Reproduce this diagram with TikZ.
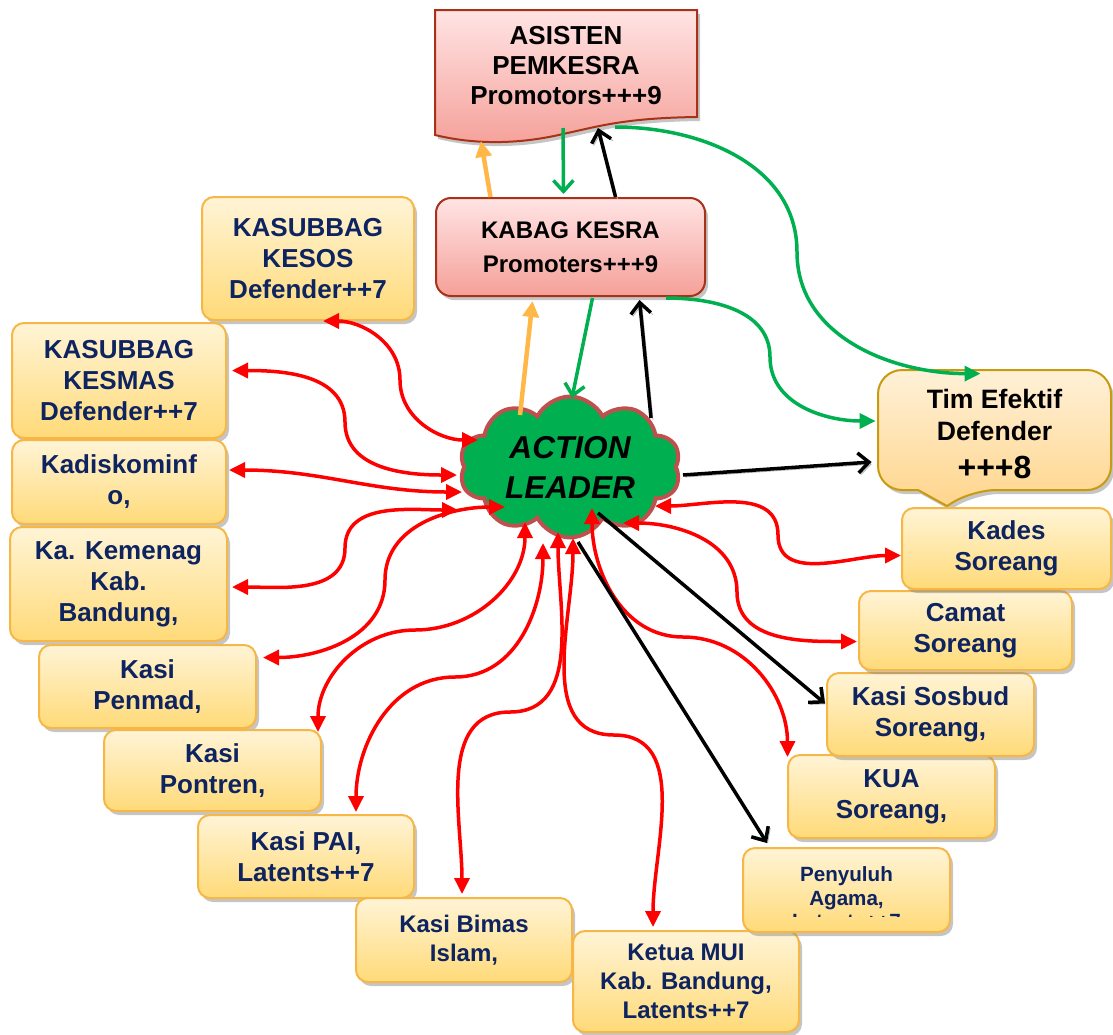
\documentclass[tikz,border=0pt]{standalone}
\usepackage{fontspec}
\setmainfont{Liberation Sans}
\usetikzlibrary{arrows.meta,shapes.symbols,shadows}
\definecolor{navy}{HTML}{0E2460}
\definecolor{ytop}{HTML}{FFF4D6}
\definecolor{ybot}{HTML}{FFDA78}
\definecolor{yline}{HTML}{F7B746}
\definecolor{ptop}{HTML}{FFE4E4}
\definecolor{pbot}{HTML}{F5A099}
\definecolor{pline}{HTML}{A83218}
\definecolor{ttop}{HTML}{FFF1D8}
\definecolor{tbot}{HTML}{FFD58C}
\definecolor{tline}{HTML}{C99A0E}
\definecolor{cloudgreen}{HTML}{00B050}
\definecolor{cloudline}{HTML}{C0504D}
\definecolor{lgreen}{HTML}{00B050}
\definecolor{lorange}{HTML}{FFB848}

\begin{document}
\begin{tikzpicture}[x=0.5pt,y=-0.5pt,
  shade/.style={drop shadow={shadow xshift=1.5pt,shadow yshift=-2pt,opacity=.5,fill=black!45}},
  ybox/.style={shade,draw=yline,line width=1pt,rounded corners=6pt,top color=ytop,bottom color=ybot,text=navy,align=center,inner sep=2pt,font=\bfseries\fontsize{13}{15.5}\selectfont},
  sbox/.style={ybox,font=\bfseries\fontsize{12}{14.5}\selectfont},
  pbox/.style={shade,draw=pline,line width=1pt,top color=ptop,bottom color=pbot,align=center,font=\bfseries\fontsize{12}{17}\selectfont},
  tbox/.style={shade,draw=tline,line width=1pt,top color=ttop,bottom color=tbot},
  redarr/.style={draw=red,line width=1.75pt,arrows={Triangle[length=8pt,width=7.5pt]-Triangle[length=8pt,width=7.5pt]}},
  blkarr/.style={draw=black,line width=1.75pt,-{Straight Barb[length=5.5pt,width=10pt]},preaction={draw=black!30,transform canvas={shift={(1pt,-1pt)}}}},
  grnarr/.style={draw=lgreen,line width=1.75pt},
  orarr/.style={draw=lorange,line width=2.25pt,-{Triangle[length=8pt,width=8pt]}}]
\useasboundingbox (0,0) rectangle (1113,1034);

\path[pbox] (435,10) -- (697,10) -- (697,117) .. controls (625,118) and (600,126) .. (563,134) .. controls (525,143) and (480,146) .. (435,135) -- cycle;
\node[align=center,font=\bfseries\fontsize{13}{15}\selectfont] (asisten) at (566,66) {ASISTEN\\PEMKESRA\\Promotors+++9};
\coordinate (asO) at (481,141);
\coordinate (asG) at (563,128);
\coordinate (asK) at (598,128);
\coordinate (asT) at (615,127);

\node[pbox,rounded corners=7.5pt,minimum width=134.5pt,minimum height=49pt] (kabag) at (570.5,247) {KABAG KESRA\\Promoters+++9};

\path[tbox] (878,430) [rounded corners=12pt] -- (878,370) -- (1111,370) -- (1111,490) -- (972,490) [sharp corners] -- (947,506) -- (918,490) [rounded corners=12pt] -- (878,490) -- cycle;
\node[minimum width=116.5pt,minimum height=60pt,align=center,font=\bfseries\fontsize{13.3}{16}\selectfont] (tim) at (994.5,434) {Tim Efektif\\Defender\\[3pt]{\fontsize{16}{18}\selectfont +++8}};

\node[ybox,minimum width=106pt,minimum height=61.5pt] (kesos) at (308,258.5) {KASUBBAG\\KESOS\\Defender++7};
\node[ybox,minimum width=107pt,minimum height=57.5pt] (kesmas) at (119,380.5) {KASUBBAG\\KESMAS\\Defender++7};
\node[ybox,minimum width=107pt,minimum height=42pt] (kominfo) at (119,482) {Kadiskominf\\o,};
\node[ybox,minimum width=108.5pt,minimum height=57pt] (kemenag) at (118.5,584) {Ka. Kemenag\\Kab.\\Bandung,};
\node[ybox,minimum width=108.5pt,minimum height=41.5pt] (penmad) at (147.5,686.5) {Kasi\\Penmad,};
\node[ybox,minimum width=108.5pt,minimum height=40.5pt] (pontren) at (212.5,770.5) {Kasi\\Pontren,};
\node[ybox,minimum width=108pt,minimum height=41.5pt] (pai) at (306,856.5) {Kasi PAI,\\Latents++7};
\node[sbox,minimum width=108pt,minimum height=42pt] (bimas) at (464,940) {Kasi Bimas\\Islam,};
\node[sbox,minimum width=113pt,minimum height=50.5pt] (mui) at (686,981.5) {Ketua MUI\\Kab. Bandung,\\Latents++7};
\node[ybox,minimum width=103.5pt,minimum height=42pt,path picture={\clip ([yshift=8pt]path picture bounding box.south west) rectangle (path picture bounding box.north east);
  \node[draw=none,fill=none,text=navy,align=center,font=\bfseries\fontsize{10.3}{11.75}\selectfont] at ([yshift=-4pt]path picture bounding box.center) {Penyuluh\\Agama,\\Latents++7};}] (penyuluh) at (846.5,890) {};
\node[ybox,minimum width=103.5pt,minimum height=41.5pt] (kua) at (891.5,796.5) {KUA\\Soreang,};
\node[ybox,minimum width=103.5pt,minimum height=41.5pt] (sosbud) at (930.5,714.5) {Kasi Sosbud\\Soreang,};
\node[ybox,minimum width=106.5pt,minimum height=39.5pt] (camat) at (965.5,630.5) {Camat\\Soreang};
\node[ybox,minimum width=104.5pt,minimum height=40.5pt] (kades) at (1006.5,548.5) {Kades\\Soreang};

\node[cloud,cloud puffs=10,cloud puff arc=125,cloud ignores aspect,minimum width=110.5pt,minimum height=70.5pt,draw=cloudline,line width=2pt,fill=cloudgreen,align=center,font=\bfseries\itshape\fontsize{15.8}{20}\selectfont] (al) at (570,467) {ACTION\\LEADER};

\draw[redarr] ([shift={(15,0)}]kesos.south) to[out=0,in=90] (400,380) to[out=-90,in=180] ([shift={(-92,-27)}]al.center);
\draw[redarr] ([shift={(5,-10)}]kesmas.east) to[out=0,in=90] (345,422) to[out=-90,in=180] ([shift={(-113,8)}]al.center);
\draw[redarr] ([shift={(2,-12)}]kominfo.east) to[out=0,in=180] ([shift={(-108,25)}]al.center);
\draw[redarr] ([shift={(4,3)}]kemenag.east) to[out=0,in=-90] (345,548) to[out=90,in=180] ([shift={(-112,43)}]al.center);
\draw[redarr] ([shift={(6,-29)}]penmad.east) to[out=0,in=-90] (385,580) to[out=90,in=180] ([shift={(-65,40)}]al.center);
\draw[redarr] ([shift={(-4,3)}]pontren.north east) to[out=90,in=180] (415,630) to[out=0,in=-90] ([shift={(-45,55)}]al.center);
\draw[redarr] ([shift={(50,-2)}]pai.north) to[out=90,in=180] (455,677) to[out=0,in=-90] ([shift={(-27,76)}]al.center);
\draw[redarr] ([shift={(-2,-3)}]bimas.north) to[out=90,in=180] (510,712) to[out=0,in=-90] ([shift={(-12,65)}]al.center);
\draw[redarr] ([shift={(-33,-3)}]mui.north) to[out=90,in=0] (614,735) to[out=180,in=-90] ([shift={(3,71)}]al.center);
\draw[redarr] ([shift={(-104,3)}]kua.north) to[out=90,in=0] (683,637) to[out=180,in=-90] ([shift={(22,41)}]al.center);
\draw[redarr] ([shift={(-1,11)}]camat.west) to[out=180,in=-90] (737,592) to[out=90,in=0] ([shift={(53,56)}]al.center);
\draw[redarr] ([shift={(0,7)}]kades.west) to[out=180,in=-90] (778,535) to[out=90,in=0] ([shift={(85,39)}]al.center);

\draw[blkarr] ([shift={(28,46)}]al.center) -- ([shift={(-1,-11)}]sosbud.west);
\draw[blkarr] ([shift={(8,75)}]al.center) -- ([shift={(25,-4)}]penyuluh.north west);
\draw[blkarr] ([shift={(113,8)}]al.center) -- ([shift={(-6,28)}]tim.west);
\draw[blkarr] ([shift={(81,-49)}]al.center) -- ([shift={(69,3)}]kabag.south);
\draw[blkarr] ([shift={(45,0)}]kabag.north) -- (asK);

\draw[orarr] ([shift={(-50,-52)}]al.center) -- ([shift={(-38,4)}]kabag.south);
\draw[orarr] ([shift={(-80,0)}]kabag.north) -- (asO);

\draw[grnarr,-{Straight Barb[length=5.5pt,width=10pt]}] (asG) -- ([shift={(-7,-3)}]kabag.north);
\draw[grnarr,-{Straight Barb[length=5.5pt,width=10pt]}] ([shift={(22,1)}]kabag.south) -- ([shift={(2,-69)}]al.center);
\draw[grnarr,-{Triangle[length=8pt,width=7.5pt]}] (asT) to[out=0,in=90] (797,252) to[out=-90,in=180] ([shift={(-14,0)}]tim.north);
\draw[grnarr,-{Triangle[length=8pt,width=7.5pt]}] ([shift={(-40,1)}]kabag.south east) to[out=0,in=90] (770,357) to[out=-90,in=180] ([shift={(-2,-13)}]tim.west);
\end{tikzpicture}
\end{document}
